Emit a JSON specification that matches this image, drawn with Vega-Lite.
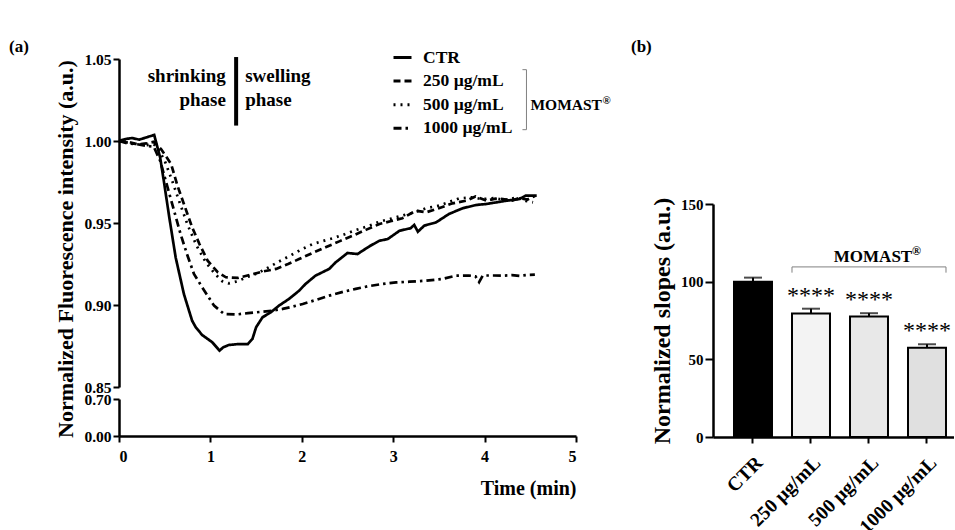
{
  "$schema": "https://vega.github.io/schema/vega-lite/v6.json",
  "padding": {"left": 9, "top": 38, "right": 0, "bottom": 0},
  "bounds": "flush",
  "spacing": 594,
  "config": {
    "font": "Liberation Serif",
    "view": {"stroke": null},
    "axis": {"labelFont": "Liberation Serif", "labelFontWeight": "bold", "labelColor": "black", "titleFont": "Liberation Serif", "titleFontWeight": "bold", "titleColor": "black", "domainColor": "black", "tickColor": "black", "domainWidth": 2.5, "tickWidth": 2, "tickSize": 6, "grid": false, "labelFontSize": 15.5},
    "title": {"font": "Liberation Serif", "fontWeight": "bold", "fontSize": 17, "color": "black", "anchor": "start", "frame": "group"},
    "text": {"font": "Liberation Serif", "fontWeight": "bold", "color": "black"}
  },
  "datasets": {
    "curves": [
      {"g": "CTR", "t": 0, "v": 1.0}, {"g": "CTR", "t": 0.07, "v": 1.0012}, {"g": "CTR", "t": 0.146, "v": 1.0018}, {"g": "CTR", "t": 0.22, "v": 1.0008}, {"g": "CTR", "t": 0.3, "v": 1.0022}, {"g": "CTR", "t": 0.385, "v": 1.0037}, {"g": "CTR", "t": 0.45, "v": 0.99}, {"g": "CTR", "t": 0.49, "v": 0.9758}, {"g": "CTR", "t": 0.55, "v": 0.9535}, {"g": "CTR", "t": 0.62, "v": 0.929}, {"g": "CTR", "t": 0.71, "v": 0.9067}, {"g": "CTR", "t": 0.8, "v": 0.8904}, {"g": "CTR", "t": 0.84, "v": 0.8864}, {"g": "CTR", "t": 0.91, "v": 0.8817}, {"g": "CTR", "t": 1.02, "v": 0.8773}, {"g": "CTR", "t": 1.1, "v": 0.8722}, {"g": "CTR", "t": 1.14, "v": 0.8742}, {"g": "CTR", "t": 1.2, "v": 0.8756}, {"g": "CTR", "t": 1.31, "v": 0.8762}, {"g": "CTR", "t": 1.41, "v": 0.8762}, {"g": "CTR", "t": 1.46, "v": 0.8793}, {"g": "CTR", "t": 1.5, "v": 0.8864}, {"g": "CTR", "t": 1.57, "v": 0.8925}, {"g": "CTR", "t": 1.66, "v": 0.8955}, {"g": "CTR", "t": 1.75, "v": 0.8996}, {"g": "CTR", "t": 1.86, "v": 0.9037}, {"g": "CTR", "t": 1.97, "v": 0.9087}, {"g": "CTR", "t": 2.04, "v": 0.9128}, {"g": "CTR", "t": 2.15, "v": 0.9179}, {"g": "CTR", "t": 2.3, "v": 0.922}, {"g": "CTR", "t": 2.37, "v": 0.926}, {"g": "CTR", "t": 2.5, "v": 0.9317}, {"g": "CTR", "t": 2.61, "v": 0.9311}, {"g": "CTR", "t": 2.74, "v": 0.9358}, {"g": "CTR", "t": 2.85, "v": 0.9392}, {"g": "CTR", "t": 2.94, "v": 0.9402}, {"g": "CTR", "t": 3.07, "v": 0.9453}, {"g": "CTR", "t": 3.19, "v": 0.9468}, {"g": "CTR", "t": 3.23, "v": 0.9488}, {"g": "CTR", "t": 3.27, "v": 0.9447}, {"g": "CTR", "t": 3.34, "v": 0.9484}, {"g": "CTR", "t": 3.47, "v": 0.9504}, {"g": "CTR", "t": 3.61, "v": 0.9555}, {"g": "CTR", "t": 3.76, "v": 0.959}, {"g": "CTR", "t": 3.91, "v": 0.961}, {"g": "CTR", "t": 4.02, "v": 0.9616}, {"g": "CTR", "t": 4.13, "v": 0.9626}, {"g": "CTR", "t": 4.24, "v": 0.9636}, {"g": "CTR", "t": 4.38, "v": 0.9646}, {"g": "CTR", "t": 4.45, "v": 0.9667}, {"g": "CTR", "t": 4.57, "v": 0.9667},
      {"g": "250 µg/mL", "t": 0, "v": 1.0}, {"g": "250 µg/mL", "t": 0.1, "v": 0.9995}, {"g": "250 µg/mL", "t": 0.2, "v": 0.998}, {"g": "250 µg/mL", "t": 0.3, "v": 0.9985}, {"g": "250 µg/mL", "t": 0.38, "v": 0.9995}, {"g": "250 µg/mL", "t": 0.46, "v": 0.9951}, {"g": "250 µg/mL", "t": 0.57, "v": 0.986}, {"g": "250 µg/mL", "t": 0.64, "v": 0.9727}, {"g": "250 µg/mL", "t": 0.71, "v": 0.9616}, {"g": "250 µg/mL", "t": 0.8, "v": 0.9474}, {"g": "250 µg/mL", "t": 0.88, "v": 0.9372}, {"g": "250 µg/mL", "t": 0.97, "v": 0.927}, {"g": "250 µg/mL", "t": 1.08, "v": 0.92}, {"g": "250 µg/mL", "t": 1.17, "v": 0.9169}, {"g": "250 µg/mL", "t": 1.3, "v": 0.9165}, {"g": "250 µg/mL", "t": 1.44, "v": 0.9185}, {"g": "250 µg/mL", "t": 1.58, "v": 0.9205}, {"g": "250 µg/mL", "t": 1.72, "v": 0.922}, {"g": "250 µg/mL", "t": 1.85, "v": 0.925}, {"g": "250 µg/mL", "t": 1.97, "v": 0.928}, {"g": "250 µg/mL", "t": 2.12, "v": 0.9318}, {"g": "250 µg/mL", "t": 2.26, "v": 0.9352}, {"g": "250 µg/mL", "t": 2.41, "v": 0.9388}, {"g": "250 µg/mL", "t": 2.56, "v": 0.9423}, {"g": "250 µg/mL", "t": 2.7, "v": 0.9458}, {"g": "250 µg/mL", "t": 2.85, "v": 0.9494}, {"g": "250 µg/mL", "t": 2.98, "v": 0.9512}, {"g": "250 µg/mL", "t": 3.1, "v": 0.9529}, {"g": "250 µg/mL", "t": 3.25, "v": 0.9575}, {"g": "250 µg/mL", "t": 3.36, "v": 0.9565}, {"g": "250 µg/mL", "t": 3.5, "v": 0.959}, {"g": "250 µg/mL", "t": 3.65, "v": 0.962}, {"g": "250 µg/mL", "t": 3.8, "v": 0.9636}, {"g": "250 µg/mL", "t": 3.9, "v": 0.9662}, {"g": "250 µg/mL", "t": 4.02, "v": 0.9636}, {"g": "250 µg/mL", "t": 4.12, "v": 0.9648}, {"g": "250 µg/mL", "t": 4.2, "v": 0.9646}, {"g": "250 µg/mL", "t": 4.3, "v": 0.9637}, {"g": "250 µg/mL", "t": 4.38, "v": 0.9652}, {"g": "250 µg/mL", "t": 4.47, "v": 0.9643}, {"g": "250 µg/mL", "t": 4.55, "v": 0.9665},
      {"g": "500 µg/mL", "t": 0, "v": 1.0}, {"g": "500 µg/mL", "t": 0.1, "v": 0.999}, {"g": "500 µg/mL", "t": 0.2, "v": 0.998}, {"g": "500 µg/mL", "t": 0.3, "v": 0.9975}, {"g": "500 µg/mL", "t": 0.38, "v": 0.998}, {"g": "500 µg/mL", "t": 0.42, "v": 0.996}, {"g": "500 µg/mL", "t": 0.5, "v": 0.988}, {"g": "500 µg/mL", "t": 0.58, "v": 0.976}, {"g": "500 µg/mL", "t": 0.66, "v": 0.963}, {"g": "500 µg/mL", "t": 0.75, "v": 0.949}, {"g": "500 µg/mL", "t": 0.85, "v": 0.936}, {"g": "500 µg/mL", "t": 0.95, "v": 0.926}, {"g": "500 µg/mL", "t": 1.05, "v": 0.919}, {"g": "500 µg/mL", "t": 1.13, "v": 0.9145}, {"g": "500 µg/mL", "t": 1.2, "v": 0.9132}, {"g": "500 µg/mL", "t": 1.3, "v": 0.9145}, {"g": "500 µg/mL", "t": 1.4, "v": 0.917}, {"g": "500 µg/mL", "t": 1.52, "v": 0.9195}, {"g": "500 µg/mL", "t": 1.64, "v": 0.923}, {"g": "500 µg/mL", "t": 1.75, "v": 0.9265}, {"g": "500 µg/mL", "t": 1.86, "v": 0.9297}, {"g": "500 µg/mL", "t": 2.0, "v": 0.934}, {"g": "500 µg/mL", "t": 2.12, "v": 0.9372}, {"g": "500 µg/mL", "t": 2.23, "v": 0.939}, {"g": "500 µg/mL", "t": 2.34, "v": 0.9407}, {"g": "500 µg/mL", "t": 2.47, "v": 0.9432}, {"g": "500 µg/mL", "t": 2.59, "v": 0.9457}, {"g": "500 µg/mL", "t": 2.72, "v": 0.948}, {"g": "500 µg/mL", "t": 2.85, "v": 0.9508}, {"g": "500 µg/mL", "t": 2.98, "v": 0.9527}, {"g": "500 µg/mL", "t": 3.1, "v": 0.9545}, {"g": "500 µg/mL", "t": 3.23, "v": 0.9565}, {"g": "500 µg/mL", "t": 3.36, "v": 0.959}, {"g": "500 µg/mL", "t": 3.5, "v": 0.9606}, {"g": "500 µg/mL", "t": 3.62, "v": 0.963}, {"g": "500 µg/mL", "t": 3.72, "v": 0.965}, {"g": "500 µg/mL", "t": 3.87, "v": 0.9657}, {"g": "500 µg/mL", "t": 3.97, "v": 0.9645}, {"g": "500 µg/mL", "t": 4.1, "v": 0.9652}, {"g": "500 µg/mL", "t": 4.22, "v": 0.964}, {"g": "500 µg/mL", "t": 4.35, "v": 0.9655}, {"g": "500 µg/mL", "t": 4.45, "v": 0.9635}, {"g": "500 µg/mL", "t": 4.53, "v": 0.9626},
      {"g": "1000 µg/mL", "t": 0, "v": 1.0}, {"g": "1000 µg/mL", "t": 0.1, "v": 0.9985}, {"g": "1000 µg/mL", "t": 0.2, "v": 0.998}, {"g": "1000 µg/mL", "t": 0.3, "v": 0.997}, {"g": "1000 µg/mL", "t": 0.38, "v": 0.9965}, {"g": "1000 µg/mL", "t": 0.45, "v": 0.988}, {"g": "1000 µg/mL", "t": 0.53, "v": 0.972}, {"g": "1000 µg/mL", "t": 0.6, "v": 0.958}, {"g": "1000 µg/mL", "t": 0.675, "v": 0.943}, {"g": "1000 µg/mL", "t": 0.75, "v": 0.93}, {"g": "1000 µg/mL", "t": 0.82, "v": 0.919}, {"g": "1000 µg/mL", "t": 0.91, "v": 0.9108}, {"g": "1000 µg/mL", "t": 1.04, "v": 0.8996}, {"g": "1000 µg/mL", "t": 1.15, "v": 0.8945}, {"g": "1000 µg/mL", "t": 1.28, "v": 0.8942}, {"g": "1000 µg/mL", "t": 1.41, "v": 0.895}, {"g": "1000 µg/mL", "t": 1.55, "v": 0.8958}, {"g": "1000 µg/mL", "t": 1.68, "v": 0.8965}, {"g": "1000 µg/mL", "t": 1.79, "v": 0.8976}, {"g": "1000 µg/mL", "t": 1.9, "v": 0.899}, {"g": "1000 µg/mL", "t": 2.01, "v": 0.9006}, {"g": "1000 µg/mL", "t": 2.15, "v": 0.903}, {"g": "1000 µg/mL", "t": 2.3, "v": 0.9057}, {"g": "1000 µg/mL", "t": 2.45, "v": 0.908}, {"g": "1000 µg/mL", "t": 2.59, "v": 0.9098}, {"g": "1000 µg/mL", "t": 2.73, "v": 0.9115}, {"g": "1000 µg/mL", "t": 2.88, "v": 0.9128}, {"g": "1000 µg/mL", "t": 3.03, "v": 0.9138}, {"g": "1000 µg/mL", "t": 3.18, "v": 0.9142}, {"g": "1000 µg/mL", "t": 3.36, "v": 0.9148}, {"g": "1000 µg/mL", "t": 3.54, "v": 0.9159}, {"g": "1000 µg/mL", "t": 3.69, "v": 0.9179}, {"g": "1000 µg/mL", "t": 3.83, "v": 0.918}, {"g": "1000 µg/mL", "t": 3.9, "v": 0.9175}, {"g": "1000 µg/mL", "t": 3.94, "v": 0.914}, {"g": "1000 µg/mL", "t": 3.98, "v": 0.918}, {"g": "1000 µg/mL", "t": 4.1, "v": 0.918}, {"g": "1000 µg/mL", "t": 4.2, "v": 0.9179}, {"g": "1000 µg/mL", "t": 4.3, "v": 0.9182}, {"g": "1000 µg/mL", "t": 4.38, "v": 0.9178}, {"g": "1000 µg/mL", "t": 4.47, "v": 0.9183}, {"g": "1000 µg/mL", "t": 4.55, "v": 0.9185}
    ],
    "bars": [
      {"group": "CTR", "mean": 100, "upper": 102.6, "sig": ""},
      {"group": "250 µg/mL", "mean": 79.5, "upper": 82.6, "sig": "****"},
      {"group": "500 µg/mL", "mean": 77.6, "upper": 79.7, "sig": "****"},
      {"group": "1000 µg/mL", "mean": 57.4, "upper": 59.7, "sig": "****"}
    ]
  },
  "hconcat": [
    {
      "bounds": "flush",
      "spacing": 12,
      "resolve": {"scale": {"x": "independent", "y": "independent"}},
      "vconcat": [
        {
          "width": 457,
          "height": 328,
          "title": {"text": "(a)", "dx": -110, "offset": 6, "dy": 10},
          "layer": [
            {
              "data": {"name": "curves"},
              "mark": {"type": "line", "strokeWidth": 2.7, "color": "black"},
              "encoding": {
                "x": {"field": "t", "type": "quantitative", "scale": {"domain": [0, 5], "nice": false}, "axis": null},
                "y": {"field": "v", "type": "quantitative", "scale": {"domain": [0.85, 1.05], "nice": false, "zero": false},
                      "axis": {"values": [0.85, 0.9, 0.95, 1.0, 1.05], "format": ".2f", "title": "Normalized Fluorescence intensity (a.u.)", "titleFontSize": 22, "titleY": 189.5, "titlePadding": 6}},
                "strokeDash": {"field": "g", "type": "nominal",
                  "scale": {"domain": ["CTR", "250 µg/mL", "500 µg/mL", "1000 µg/mL"], "range": [[1, 0], [7, 4], [2, 5], [8, 4, 2.5, 4]]},
                  "legend": {"orient": "none", "legendX": 273, "legendY": -12, "title": null, "symbolType": "stroke", "symbolSize": 324, "symbolStrokeWidth": 3, "symbolStrokeColor": "black", "labelFont": "Liberation Serif", "labelFontWeight": "bold", "labelFontSize": 17.5, "labelColor": "black", "labelOffset": 10, "rowPadding": 4.6, "padding": 0}}
              }
            },
            {
              "data": {"values": [{}]},
              "mark": {"type": "rule", "strokeWidth": 4, "color": "black"},
              "encoding": {"x": {"datum": 1.2815}, "y": {"datum": 1.0512}, "y2": {"datum": 1.0094}}
            },
            {
              "data": {"values": [{}]},
              "mark": {"type": "text", "text": ["shrinking", "phase"], "align": "right", "baseline": "alphabetic", "fontSize": 19, "lineHeight": 23.4},
              "encoding": {"x": {"datum": 1.169}, "y": {"datum": 1.0358}}
            },
            {
              "data": {"values": [{}]},
              "mark": {"type": "text", "text": ["swelling", "phase"], "align": "left", "baseline": "alphabetic", "fontSize": 19, "lineHeight": 23.4},
              "encoding": {"x": {"datum": 1.38}, "y": {"datum": 1.0358}}
            },
            {
              "data": {"values": [{}]},
              "mark": {"type": "rule", "strokeWidth": 1, "color": "#808080"},
              "encoding": {"x": {"datum": 4.458}, "y": {"datum": 1.0435}, "y2": {"datum": 1.0069}}
            },
            {
              "data": {"values": [{}]},
              "mark": {"type": "rule", "strokeWidth": 1, "color": "#808080"},
              "encoding": {"x": {"datum": 4.414}, "x2": {"datum": 4.458}, "y": {"datum": 1.0435}}
            },
            {
              "data": {"values": [{}]},
              "mark": {"type": "rule", "strokeWidth": 1, "color": "#808080"},
              "encoding": {"x": {"datum": 4.414}, "x2": {"datum": 4.458}, "y": {"datum": 1.0069}}
            },
            {
              "data": {"values": [{}]},
              "mark": {"type": "text", "text": "MOMAST", "align": "left", "baseline": "alphabetic", "fontSize": 15.5},
              "encoding": {"x": {"datum": 4.502}, "y": {"datum": 1.0192}}
            },
            {
              "data": {"values": [{}]},
              "mark": {"type": "text", "text": "®", "align": "left", "baseline": "alphabetic", "fontSize": 11, "dx": 72, "dy": -6},
              "encoding": {"x": {"datum": 4.502}, "y": {"datum": 1.0192}}
            }
          ]
        },
        {
          "width": 457,
          "height": 37,
          "data": {"name": "curves"},
          "mark": {"type": "line", "clip": true, "strokeWidth": 2.5, "color": "black"},
          "encoding": {
            "x": {"field": "t", "type": "quantitative", "scale": {"domain": [0, 5], "nice": false},
                  "axis": {"values": [0, 1, 2, 3, 4, 5], "title": "Time (min)", "titleFontSize": 20, "titleAnchor": "end", "titlePadding": 14, "labelFontSize": 16, "labelPadding": 6}},
            "y": {"field": "v", "type": "quantitative", "scale": {"domain": [0, 0.7], "nice": false},
                  "axis": {"values": [0, 0.7], "format": ".2f", "title": null}},
            "detail": {"field": "g"}
          }
        }
      ]
    },
    {
      "bounds": "flush",
      "spacing": 45,
      "vconcat": [
        {
          "width": 241,
          "height": 100,
          "title": {"text": "(b)", "dx": -82, "offset": 6, "dy": 3},
          "data": {"values": [{}]},
          "mark": {"type": "text", "text": ""},
          "encoding": {}
        },
        {
          "width": 241,
          "height": 233,
          "layer": [
            {
              "data": {"name": "bars"},
              "mark": {"type": "bar", "stroke": "black", "strokeWidth": 2},
              "encoding": {
                "x": {"field": "group", "type": "nominal",
                      "scale": {"domain": ["CTR", "250 µg/mL", "500 µg/mL", "1000 µg/mL"], "paddingInner": 0.345, "paddingOuter": 0.25, "align": 0.724},
                      "axis": {"title": null, "labelAngle": -45, "labelFontSize": 19.5, "labelPadding": 10}},
                "y": {"field": "mean", "type": "quantitative", "scale": {"domain": [0, 150], "nice": false},
                      "axis": {"values": [0, 50, 100, 150], "title": "Normalized slopes (a.u.)", "titleFontSize": 24, "labelFontSize": 15, "tickSize": 8, "titlePadding": 6}},
                "fill": {"field": "group", "type": "nominal", "scale": {"domain": ["CTR", "250 µg/mL", "500 µg/mL", "1000 µg/mL"], "range": ["#000000", "#f3f3f3", "#e8e8e8", "#e0e0e0"]}, "legend": null}
              }
            },
            {
              "data": {"name": "bars"},
              "mark": {"type": "rule", "strokeWidth": 2, "color": "black"},
              "encoding": {"x": {"field": "group", "type": "nominal"}, "y": {"field": "mean", "type": "quantitative"}, "y2": {"field": "upper"}}
            },
            {
              "data": {"name": "bars"},
              "mark": {"type": "tick", "size": 18, "thickness": 2, "color": "black"},
              "encoding": {"x": {"field": "group", "type": "nominal"}, "y": {"field": "upper", "type": "quantitative"}}
            },
            {
              "data": {"name": "bars"},
              "mark": {"type": "text", "fontSize": 24, "fontWeight": "normal", "baseline": "alphabetic", "dy": -6},
              "encoding": {"x": {"field": "group", "type": "nominal"}, "y": {"field": "upper", "type": "quantitative"}, "text": {"field": "sig"}}
            },
            {
              "data": {"values": [{}]},
              "mark": {"type": "rule", "strokeWidth": 1, "color": "#808080"},
              "encoding": {"x": {"datum": "250 µg/mL", "bandPosition": 0}, "x2": {"datum": "1000 µg/mL", "bandPosition": 1}, "y": {"datum": 109.5}}
            },
            {
              "data": {"values": [{}]},
              "mark": {"type": "rule", "strokeWidth": 1, "color": "#808080"},
              "encoding": {"x": {"datum": "250 µg/mL", "bandPosition": 0}, "y": {"datum": 109.5}, "y2": {"datum": 105.8}}
            },
            {
              "data": {"values": [{}]},
              "mark": {"type": "rule", "strokeWidth": 1, "color": "#808080"},
              "encoding": {"x": {"datum": "1000 µg/mL", "bandPosition": 1}, "y": {"datum": 109.5}, "y2": {"datum": 105.8}}
            },
            {
              "data": {"values": [{}]},
              "mark": {"type": "text", "text": "MOMAST", "align": "center", "baseline": "alphabetic", "fontSize": 17, "dx": 4},
              "encoding": {"x": {"datum": "500 µg/mL"}, "y": {"datum": 112.9}}
            },
            {
              "data": {"values": [{}]},
              "mark": {"type": "text", "text": "®", "align": "left", "baseline": "alphabetic", "fontSize": 12, "dx": 43, "dy": -7},
              "encoding": {"x": {"datum": "500 µg/mL"}, "y": {"datum": 112.9}}
            }
          ]
        }
      ]
    }
  ]
}
